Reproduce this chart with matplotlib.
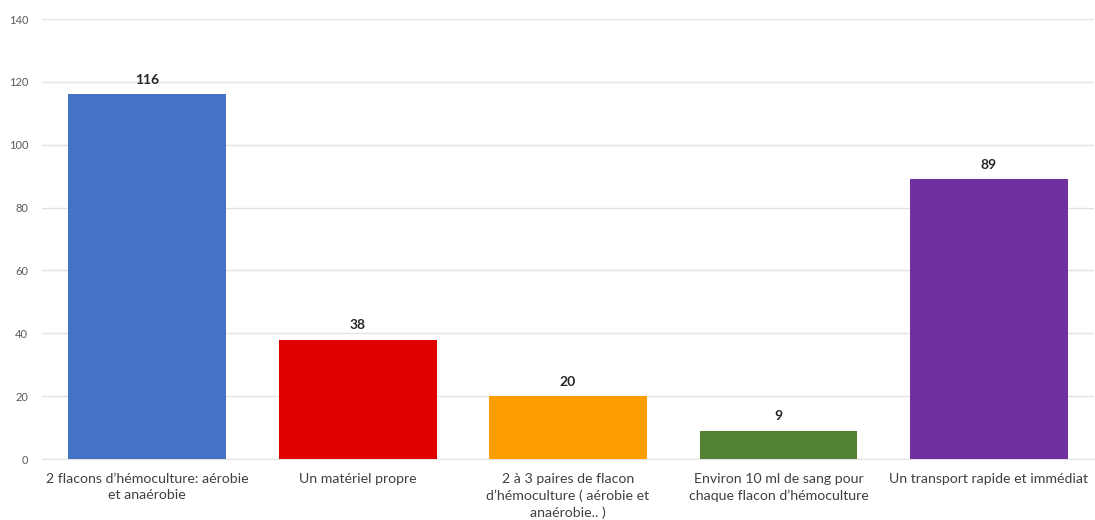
import matplotlib
matplotlib.use("Agg")
import matplotlib.pyplot as plt

categories = [
    "2 flacons d\u2019hémoculture: aérobie\net anaérobie",
    "Un matériel propre",
    "2 à 3 paires de flacon\nd\u2019hémoculture ( aérobie et\nanaérobie.. )",
    "Environ 10 ml de sang pour\nchaque flacon d\u2019hémoculture",
    "Un transport rapide et immédiat",
]
values = [116, 38, 20, 9, 89]
colors = ["#4472C4", "#E00000", "#FF9E00", "#548235", "#7030A0"]
y_ticks = [0, 20, 40, 60, 80, 100, 120, 140]

plt.rcParams["font.family"] = ["Lato", "DejaVu Sans"]

fig = plt.figure(figsize=(10.95, 5.2), dpi=100)
ax = fig.add_axes([42 / 1095, 1 - 459 / 520, 1052 / 1095, 440 / 520])

x = list(range(len(categories)))
bars = ax.bar(x, values, width=0.75, color=colors, zorder=3)

for xi, v in zip(x, values):
    ax.annotate(str(v), (xi, v), xytext=(0, 6), textcoords="offset points",
                ha="center", va="bottom", fontsize=10, fontweight="bold",
                color="#262626")

ax.set_xlim(-0.5, len(categories) - 0.5)
ax.set_ylim(0, 140)
ax.set_yticks(y_ticks)
ax.set_yticklabels([str(t) for t in y_ticks])
ax.set_xticks(x)
ax.set_xticklabels(categories, fontsize=10.2, color="#404040", linespacing=1.45)
ax.tick_params(axis="y", labelsize=8, colors="#595959", length=0, pad=10)
ax.tick_params(axis="x", length=0, pad=10)

ax.grid(axis="y", color="#E3E3E3", linewidth=1, zorder=0)
for s in ["top", "right", "left"]:
    ax.spines[s].set_visible(False)
ax.spines["bottom"].set_color("#E3E3E3")

fig.savefig("out.png", dpi=100)
